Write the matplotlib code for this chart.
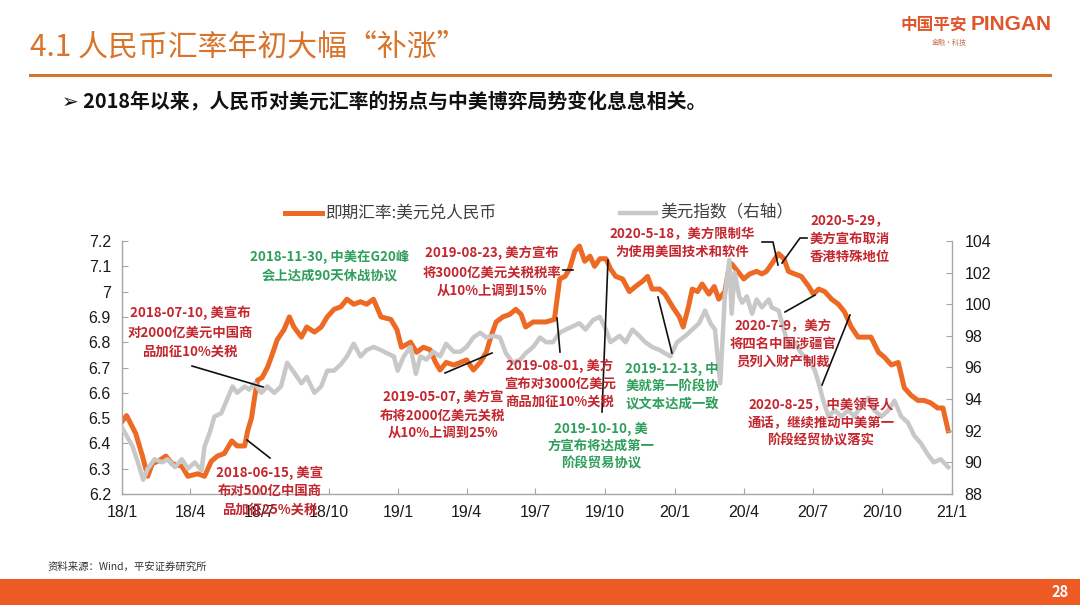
import matplotlib
matplotlib.use('Agg')
import matplotlib.pyplot as plt
import matplotlib.dates as mdates
from matplotlib.lines import Line2D
from matplotlib.patches import Rectangle
from matplotlib.transforms import Affine2D
from matplotlib.ticker import FuncFormatter
import pandas as pd

plt.rcParams['font.family'] = ['Noto Sans CJK SC', 'DejaVu Sans']

# 即期汇率:美元兑人民币 (left axis)
usdcny_dates = ['2018-01-02', '2018-01-07', '2018-01-19', '2018-01-28', '2018-02-04', '2018-02-10',
                '2018-02-18', '2018-02-28', '2018-03-08', '2018-03-21', '2018-03-29', '2018-04-11',
                '2018-04-20', '2018-04-29', '2018-05-07', '2018-05-16', '2018-05-26', '2018-06-02',
                '2018-06-12', '2018-06-16', '2018-06-21', '2018-06-25', '2018-06-29', '2018-07-05',
                '2018-07-12', '2018-07-17', '2018-07-25', '2018-08-03', '2018-08-10', '2018-08-16',
                '2018-08-26', '2018-09-02', '2018-09-12', '2018-09-21', '2018-09-29', '2018-10-08',
                '2018-10-17', '2018-10-25', '2018-11-03', '2018-11-12', '2018-11-20', '2018-11-29',
                '2018-12-09', '2018-12-22', '2018-12-30', '2019-01-05', '2019-01-17', '2019-01-25',
                '2019-02-03', '2019-02-12', '2019-02-19', '2019-02-25', '2019-03-05', '2019-03-15',
                '2019-03-24', '2019-04-01', '2019-04-10', '2019-04-19', '2019-04-27', '2019-05-03',
                '2019-05-10', '2019-05-19', '2019-05-28', '2019-06-05', '2019-06-12', '2019-06-18',
                '2019-06-28', '2019-07-07', '2019-07-15', '2019-07-26', '2019-07-30', '2019-08-02',
                '2019-08-09', '2019-08-15', '2019-08-22', '2019-08-28', '2019-09-04', '2019-09-11',
                '2019-09-17', '2019-09-24', '2019-10-02', '2019-10-08', '2019-10-15', '2019-10-24',
                '2019-11-02', '2019-11-10', '2019-11-19', '2019-11-26', '2019-12-02', '2019-12-12',
                '2019-12-19', '2019-12-29', '2020-01-07', '2020-01-12', '2020-01-19', '2020-01-24',
                '2020-01-31', '2020-02-06', '2020-02-15', '2020-02-22', '2020-02-28', '2020-03-07',
                '2020-03-13', '2020-03-16', '2020-03-24', '2020-04-01', '2020-04-09', '2020-04-18',
                '2020-04-25', '2020-05-01', '2020-05-08', '2020-05-17', '2020-05-24', '2020-05-30',
                '2020-06-07', '2020-06-16', '2020-06-26', '2020-07-02', '2020-07-09', '2020-07-17',
                '2020-07-26', '2020-08-04', '2020-08-12', '2020-08-21', '2020-08-30', '2020-09-07',
                '2020-09-16', '2020-09-26', '2020-10-04', '2020-10-13', '2020-10-22', '2020-10-30',
                '2020-11-08', '2020-11-17', '2020-11-25', '2020-12-04', '2020-12-13', '2020-12-20',
                '2020-12-27']
usdcny_vals = [6.49, 6.51, 6.44, 6.35, 6.27, 6.32, 6.33, 6.35, 6.32, 6.31, 6.27, 6.28,
               6.27, 6.33, 6.35, 6.36, 6.41, 6.39, 6.39, 6.45, 6.50, 6.58, 6.65, 6.66,
               6.70, 6.74, 6.81, 6.85, 6.90, 6.86, 6.82, 6.86, 6.84, 6.86, 6.90, 6.93,
               6.94, 6.97, 6.95, 6.96, 6.95, 6.97, 6.90, 6.89, 6.85, 6.78, 6.80, 6.76,
               6.78, 6.77, 6.72, 6.69, 6.72, 6.71, 6.72, 6.73, 6.69, 6.72, 6.76, 6.82,
               6.88, 6.90, 6.91, 6.93, 6.91, 6.86, 6.88, 6.88, 6.88, 6.89, 6.98, 7.05,
               7.06, 7.09, 7.16, 7.18, 7.12, 7.14, 7.10, 7.13, 7.13, 7.09, 7.06, 7.05,
               7.00, 7.02, 7.04, 7.06, 7.01, 7.01, 6.99, 6.94, 6.90, 6.86, 6.94, 7.01,
               7.00, 7.03, 6.99, 7.02, 6.97, 7.00, 7.10, 7.11, 7.08, 7.05, 7.07, 7.08,
               7.07, 7.08, 7.11, 7.15, 7.13, 7.08, 7.07, 7.06, 7.02, 6.99, 7.01, 7.00,
               6.97, 6.95, 6.92, 6.86, 6.82, 6.82, 6.82, 6.76, 6.74, 6.71, 6.72, 6.62,
               6.59, 6.57, 6.57, 6.56, 6.54, 6.54, 6.45]

# 美元指数 (right axis)
dxy_dates = ['2018-01-01', '2018-01-08', '2018-01-15', '2018-01-22', '2018-01-29', '2018-02-04',
             '2018-02-13', '2018-02-23', '2018-03-02', '2018-03-12', '2018-03-21', '2018-03-29',
             '2018-04-07', '2018-04-16', '2018-04-20', '2018-04-27', '2018-05-03', '2018-05-12',
             '2018-05-20', '2018-05-27', '2018-06-02', '2018-06-12', '2018-06-18', '2018-06-25',
             '2018-07-04', '2018-07-12', '2018-07-21', '2018-07-30', '2018-08-07', '2018-08-16',
             '2018-08-26', '2018-09-02', '2018-09-12', '2018-09-21', '2018-09-29', '2018-10-08',
             '2018-10-17', '2018-10-25', '2018-11-03', '2018-11-12', '2018-11-20', '2018-11-29',
             '2018-12-09', '2018-12-17', '2018-12-26', '2018-12-31', '2019-01-08', '2019-01-17',
             '2019-01-24', '2019-01-30', '2019-02-07', '2019-02-16', '2019-02-25', '2019-03-05',
             '2019-03-15', '2019-03-24', '2019-04-01', '2019-04-10', '2019-04-19', '2019-04-27',
             '2019-05-06', '2019-05-15', '2019-05-23', '2019-06-01', '2019-06-11', '2019-06-18',
             '2019-06-28', '2019-07-07', '2019-07-15', '2019-07-24', '2019-08-02', '2019-08-10',
             '2019-08-19', '2019-08-28', '2019-09-05', '2019-09-15', '2019-09-24', '2019-10-02',
             '2019-10-08', '2019-10-20', '2019-10-28', '2019-11-06', '2019-11-15', '2019-11-23',
             '2019-12-02', '2019-12-12', '2019-12-19', '2019-12-26', '2020-01-04', '2020-01-15',
             '2020-01-24', '2020-02-02', '2020-02-10', '2020-02-17', '2020-02-23', '2020-03-01',
             '2020-03-07', '2020-03-13', '2020-03-16', '2020-03-20', '2020-03-26', '2020-03-30',
             '2020-04-05', '2020-04-12', '2020-04-18', '2020-04-25', '2020-05-04', '2020-05-08',
             '2020-05-17', '2020-05-24', '2020-05-30', '2020-06-07', '2020-06-16', '2020-06-26',
             '2020-07-04', '2020-07-09', '2020-07-15', '2020-07-22', '2020-07-30', '2020-08-08',
             '2020-08-17', '2020-08-25', '2020-09-03', '2020-09-13', '2020-09-20', '2020-09-30',
             '2020-10-09', '2020-10-17', '2020-10-26', '2020-11-04', '2020-11-12', '2020-11-21',
             '2020-11-30', '2020-12-08', '2020-12-17', '2020-12-27']
dxy_vals = [92.2, 91.6, 91.0, 90.0, 88.9, 89.6, 90.2, 90.0, 90.2, 89.7, 90.2, 89.6,
            90.0, 89.5, 91.0, 91.9, 92.9, 93.1, 94.0, 94.8, 94.4, 94.8, 94.6, 95.0,
            94.4, 94.8, 94.4, 94.8, 96.3, 95.7, 95.0, 95.4, 94.4, 94.8, 95.8, 95.8,
            96.2, 96.7, 97.5, 96.7, 97.1, 97.3, 97.1, 96.9, 96.7, 95.8, 96.7, 97.3,
            95.6, 96.7, 96.5, 97.0, 96.7, 97.5, 97.0, 97.0, 97.3, 97.9, 98.2, 97.9,
            98.0, 97.9, 96.9, 96.3, 96.5, 96.9, 97.3, 97.9, 97.6, 97.6, 98.2, 98.4,
            98.6, 98.8, 98.4, 99.0, 99.2, 98.4, 97.6, 98.0, 97.6, 98.4, 98.0, 97.6,
            97.3, 97.1, 96.9, 96.7, 97.6, 98.0, 98.4, 98.8, 99.6, 98.8, 98.4, 95.0,
            100.5, 102.8, 99.4, 102.0, 100.5, 100.1, 100.5, 99.4, 100.3, 99.8, 100.3, 99.8,
            99.6, 98.4, 97.3, 97.6, 96.9, 96.5, 95.8, 95.0, 93.9, 92.9, 93.3, 92.9,
            93.3, 92.9, 93.6, 94.1, 93.3, 92.9, 93.3, 93.9, 92.9, 92.5, 91.7, 91.2,
            90.5, 90.0, 90.2, 89.7]

left_ticks = [6.2, 6.3, 6.4, 6.5, 6.6, 6.7, 6.8, 6.9, 7.0, 7.1, 7.2]
right_ticks = [88, 90, 92, 94, 96, 98, 100, 102, 104]

RED = '#C4262E'
GREEN = '#2E9E5B'
ORANGE = '#EC6A24'
GREY = '#C8C8C8'

# (text, colour, centre in px, line spacing, leader path in px)
notes = [
    ('2018-07-10, 美宣布\n对2000亿美元中国商\n品加征10%关税', RED, (190, 332), 1.5, [(192, 366), (263, 387)]),
    ('2018-06-15, 美宣\n布对500亿中国商\n品加征25%关税', RED, (270, 491), 1.4, [(247, 440), (270, 458)]),
    ('2018-11-30, 中美在G20峰\n会上达成90天休战协议', GREEN, (330, 266), 1.4, None),
    ('2019-08-23, 美方宣布\n将3000亿美元关税税率\n从10%上调到15%', RED, (492, 272), 1.45, [(563, 270), (573, 270)]),
    ('2019-08-01, 美方\n宣布对3000亿美元\n商品加征10%关税', RED, (560, 384), 1.35, [(557, 318), (560, 352)]),
    ('2019-10-10, 美\n方宣布将达成第一\n阶段贸易协议', GREEN, (601, 446), 1.3, [(608, 260), (602, 412)]),
    ('2019-05-07, 美方宣\n布将2000亿美元关税\n从10%上调到25%', RED, (443, 415), 1.35, [(445, 373), (492, 353)]),
    ('2019-12-13, 中\n美就第一阶段协\n议文本达成一致', GREEN, (672, 387), 1.35, [(658, 297), (672, 353)]),
    ('2020-5-18，美方限制华\n为使用美国技术和软件', RED, (682, 243), 1.4, [(762, 242), (773, 242), (778, 265)]),
    ('2020-5-29，\n美方宣布取消\n香港特殊地位', RED, (850, 239), 1.4, [(807, 238), (800, 238), (782, 263)]),
    ('2020-7-9，美方\n将四名中国涉疆官\n员列入财产制裁', RED, (783, 344), 1.35, [(785, 312), (815, 295)]),
    ('2020-8-25，中美领导人\n通话，继续推动中美第一\n阶段经贸协议落实', RED, (821, 423), 1.35, [(822, 385), (850, 315)]),
]

W, H = 1080, 608
fig = plt.figure(figsize=(W / 100, H / 100), dpi=100)
px = Affine2D().scale(1 / W, -1 / H).translate(0, 1) + fig.transFigure

# header
fig.text(30, 47, '4.1 人民币汇率年初大幅“补涨”', transform=px, fontsize=21.5,
         color='#D8742C', va='center', ha='left')
fig.add_artist(Line2D([30, 1050], [75, 75], transform=px, color='#D4752B', lw=2.2))
fig.text(900, 25, '中国平安', transform=px, fontsize=12, fontweight='bold',
         color='#E0552A', va='center', ha='left')
fig.text(971, 25, 'PINGAN', transform=px, fontsize=15, fontweight='bold',
         family=['Liberation Sans', 'DejaVu Sans'], color='#E0552A', va='center', ha='left')
fig.text(932, 43, '金融·科技', transform=px, fontsize=5, color='#C07050', va='center', ha='left')
fig.text(62, 101, '➢ 2018年以来，人民币对美元汇率的拐点与中美博弈局势变化息息相关。', transform=px,
         fontsize=14.3, fontweight='bold', family=['Noto Sans CJK SC', 'DejaVu Sans'],
         color='#111111', va='center', ha='left')

# chart
ax = fig.add_axes([122 / W, 1 - 494 / H, (952 - 122) / W, (494 - 241) / H])
ax2 = ax.twinx()

ax.plot(pd.to_datetime(usdcny_dates), usdcny_vals, color=ORANGE, lw=3.6,
        solid_joinstyle='round', zorder=2)
ax2.plot(pd.to_datetime(dxy_dates), dxy_vals, color=GREY, lw=3.2,
         solid_joinstyle='round', zorder=2)

ax.set_xlim(pd.Timestamp('2018-01-01'), pd.Timestamp('2021-01-01'))
ax.set_ylim(6.2, 7.2)
ax2.set_ylim(88, 104)
ax.set_yticks(left_ticks)
ax2.set_yticks(right_ticks)
ax.yaxis.set_major_formatter(FuncFormatter(lambda v, p: '{:g}'.format(round(v, 1))))
ax.xaxis.set_major_locator(mdates.MonthLocator(bymonth=[1, 4, 7, 10]))
ax.xaxis.set_major_formatter(FuncFormatter(
    lambda v, p: '{}/{}'.format(mdates.num2date(v).year % 100, mdates.num2date(v).month)))

for a in (ax, ax2):
    for s in a.spines.values():
        s.set_color('#A6A6A6')
        s.set_linewidth(1.0)
    a.spines['top'].set_visible(False)
    a.patch.set_visible(False)
ax.spines['right'].set_visible(False)
ax2.spines['left'].set_visible(False)
ax2.spines['bottom'].set_visible(False)

ax.tick_params(axis='y', direction='in', length=4, color='#A6A6A6', labelsize=11.5,
               labelcolor='#1A1A1A', pad=8)
ax.tick_params(axis='x', direction='in', length=4, color='#A6A6A6', labelsize=11.5,
               labelcolor='#1A1A1A', pad=8)
ax2.tick_params(axis='y', direction='in', length=4, color='#A6A6A6', labelsize=11.5,
                labelcolor='#1A1A1A', pad=9)
for lab in ax.get_xticklabels() + ax.get_yticklabels() + ax2.get_yticklabels():
    lab.set_family(['Liberation Sans', 'DejaVu Sans'])

# legend
fig.add_artist(Line2D([285, 322], [213, 213], transform=px, color=ORANGE, lw=3.6))
fig.text(326, 213, '即期汇率:美元兑人民币', transform=px, fontsize=12, color='#404040',
         va='center', ha='left')
fig.add_artist(Line2D([620, 656], [213, 213], transform=px, color=GREY, lw=3.2))
fig.text(660, 213, '美元指数（右轴）', transform=px, fontsize=12, color='#404040',
         va='center', ha='left')

# event notes
for txt, col, (cx, cy), ls, path in notes:
    fig.text(cx, cy, txt, transform=px, fontsize=9.6, color=col, ha='center', va='center',
             multialignment='center', linespacing=ls, fontweight='bold')
    if path:
        xs = [p[0] for p in path]
        ys = [p[1] for p in path]
        fig.add_artist(Line2D(xs, ys, transform=px, color='#111111', lw=1.2))

# footer
fig.text(48, 567, '资料来源：Wind，平安证券研究所', transform=px, fontsize=7.5,
         color='#333333', va='center', ha='left')
fig.add_artist(Rectangle((0, 605), W, -26, transform=px, facecolor='#EE5A24', edgecolor='none'))
fig.text(1060, 592, '28', transform=px, fontsize=10.5, fontweight='bold', color='white',
         va='center', ha='center')

fig.savefig('out.png', dpi=100)
